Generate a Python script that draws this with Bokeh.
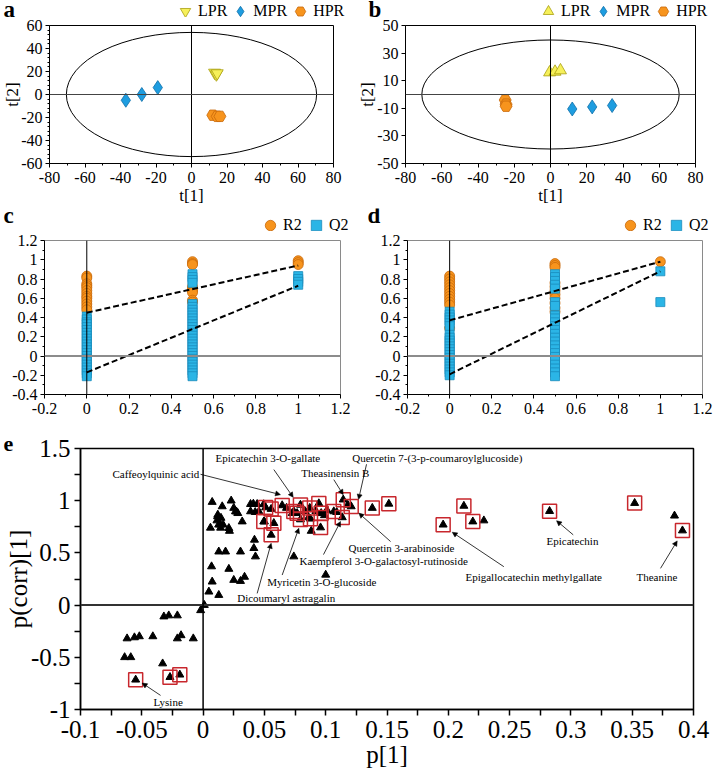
import math
from bokeh.plotting import figure
from bokeh.layouts import column, row
from bokeh.models import (Range1d, FixedTicker, Span, Label, Legend, LegendItem,
                          Arrow, NormalHead, ColumnDataSource)
from bokeh.embed import file_html
from bokeh.resources import INLINE

FONT = "Liberation Serif"
QFONT = "'Liberation Serif'"
ORANGE, ORANGE_EDGE = "#F7941D", "#C8680A"
BLUE, BLUE_EDGE = "#1E9DE0", "#0F6FA8"
CYAN, CYAN_EDGE = "#2BB5E6", "#1A8BBB"
YELLOW, YELLOW_EDGE = "#F6F05A", "#A89E10"
RED = "#C8272D"

# ---------------- panel a (score plot) ----------------
a_lpr_t1 = [13.0, 14.0, 14.5]
a_lpr_t2 = [19.0, 17.5, 18.5]
a_mpr_t1 = [-37.0, -28.0, -19.0]
a_mpr_t2 = [-5.0, 0.0, 6.0]
a_hpr_t1 = [12.0, 14.5, 16.0]
a_hpr_t2 = [-18.0, -19.0, -19.0]
a_ellipse_axes = [70.5, 54.0]
a_x_ticks = [-80, -60, -40, -20, 0, 20, 40, 60, 80]
a_x_labels = ["-80", "-60", "-40", "-20", "0", "20", "40", "60", "80"]
a_x_minor = [-70, -50, -30, -10, 10, 30, 50, 70]
a_y_ticks = [-60, -40, -20, 0, 20, 40, 60]
a_y_labels = ["-60", "-40", "-20", "0", "20", "40", "60"]
a_y_minor = [-56, -52, -48, -44, -36, -32, -28, -24, -16, -12, -8, -4,
             4, 8, 12, 16, 24, 28, 32, 36, 44, 48, 52, 56]

# ---------------- panel b (score plot) ----------------
b_lpr_t1 = [-0.5, 2.5, 5.5]
b_lpr_t2 = [16.0, 16.5, 17.5]
b_mpr_t1 = [12.0, 23.0, 34.0]
b_mpr_t2 = [-10.5, -9.0, -8.0]
b_hpr_t1 = [-25.0, -24.5, -24.5]
b_hpr_t2 = [-4.0, -7.0, -8.5]
b_ellipse_axes = [71.0, 39.5]
b_y_ticks = [-50, -30, -10, 10, 30, 50]
b_y_labels = ["-50", "-30", "-10", "10", "30", "50"]

group_labels = ["LPR", "MPR", "HPR"]
perm_labels = ["R2", "Q2"]

# ---------------- panels c, d (permutation tests) ----------------
c_r2_at0 = [0.83, 0.81, 0.75, 0.73, 0.71, 0.68, 0.65, 0.62, 0.60, 0.57, 0.54, 0.51, 0.48]
c_q2_at0 = [0.41, 0.38, 0.35, 0.33, 0.30, 0.27, 0.24, 0.21, 0.18, 0.15, 0.12, 0.09,
            0.06, 0.03, 0.0, -0.03, -0.06, -0.09, -0.12, -0.15, -0.18, -0.21]
c_r2_at05 = [0.98, 0.96, 0.95, 0.72, 0.70, 0.68, 0.66, 0.58, 0.56]
c_q2_at05 = [0.85, 0.82, 0.79, 0.76, 0.54, 0.51, 0.48, 0.45, 0.42, 0.39, 0.36, 0.33,
             0.30, 0.27, 0.24, 0.21, 0.18, 0.15, 0.12, 0.09, 0.06, 0.03, 0.0, -0.03,
             -0.06, -0.09, -0.12, -0.15, -0.18, -0.21]
c_r2_at1 = [0.99, 0.97, 0.95]
c_q2_at1 = [0.83, 0.80, 0.77, 0.74]
c_r2_line = [0.45, 0.94]
c_q2_line = [-0.17, 0.73]

d_r2_at0 = [0.83, 0.80, 0.77, 0.74, 0.71, 0.68, 0.65, 0.62, 0.59, 0.56, 0.53, 0.29]
d_q2_at0 = [0.46, 0.43, 0.40, 0.37, 0.34, 0.31, 0.22, 0.19, 0.16, 0.13, 0.10, 0.07,
            0.04, 0.01, -0.02, -0.05, -0.08, -0.11, -0.14, -0.17, -0.20]
d_r2_at05 = [0.96, 0.94, 0.92, 0.76, 0.72, 0.68, 0.64, 0.60, 0.55, 0.50, 0.46]
d_q2_at05 = [0.85, 0.82, 0.78, 0.74, 0.70, 0.56, 0.52, 0.42, 0.39, 0.35, 0.31, 0.27,
             0.23, 0.19, 0.15, 0.11, 0.07, 0.03, -0.01, -0.05, -0.09, -0.13, -0.17, -0.21]
d_r2_at1 = [0.98]
d_q2_at1 = [0.88, 0.56]
d_r2_line = [0.37, 0.98]
d_q2_line = [-0.19, 0.88]

perm_x_ticks = [-0.2, 0, 0.2, 0.4, 0.6, 0.8, 1, 1.2]
perm_x_labels = ["-0.2", "0", "0.2", "0.4", "0.6", "0.8", "1", "1.2"]
perm_x_minor = [-0.1, 0.1, 0.3, 0.5, 0.7, 0.9, 1.1]
perm_y_ticks = [-0.4, -0.2, 0, 0.2, 0.4, 0.6, 0.8, 1, 1.2]
perm_y_labels = ["-0.4", "-0.2", "0", "0.2", "0.4", "0.6", "0.8", "1", "1.2"]
perm_y_minor = [-0.3, -0.1, 0.1, 0.3, 0.5, 0.7, 0.9, 1.1]

# ---------------- panel e (S-plot) ----------------
e_p1 = [-0.064, -0.059, -0.062, -0.056, -0.052, -0.041, -0.033, -0.032, -0.028, -0.021,
        -0.021, -0.018, -0.008, -0.002, 0.001,
        0.0074, 0.0156, 0.0229, 0.025, 0.0264, 0.012, 0.0142, 0.021, 0.0319, 0.0387,
        0.0441, 0.0387, 0.0455, 0.0727, 0.0882, 0.074, 0.100, 0.0419, 0.0414, 0.0427,
        0.0128, 0.0183, 0.0305, 0.021, 0.025, 0.0305, 0.0074, 0.0047, 0.0128, 0.0069,
        0.0338, 0.006, 0.0118, 0.0146, 0.0113, 0.0127, 0.0163, 0.0143, 0.0215, 0.0272,
        0.0283, 0.0425, 0.041, 0.0494, 0.050, 0.068, 0.083, 0.092, 0.101, 0.109, 0.118,
        0.086, 0.099, 0.229, 0.3845]
e_pcorr = [-0.50, -0.50, -0.32, -0.31, -0.30, -0.30, -0.56, -0.11, -0.10, -0.10,
           -0.32, -0.29, -0.32, -0.05, 0.00,
           0.987, 0.945, 1.0, 0.93, 0.897, 0.865, 0.77, 0.737, 0.80, 0.967,
           0.967, 0.897, 0.897, 0.88, 0.71, 0.465, 0.29, 0.625, 0.545, 0.465,
           0.512, 0.512, 0.512, 0.346, 0.24, 0.23, 0.224, 0.128, 0.096, 0.37,
           0.27, 0.74, 0.85, 0.835, 0.81, 0.77, 0.77, 0.74, 0.71, 0.895,
           0.88, 0.89, 0.97, 0.965, 0.80, 0.93, 0.90, 0.90, 0.91, 0.89, 0.96,
           0.84, 0.86, 0.81, 0.856]
e_vip_p1 = [0.051, 0.0555, 0.0645, 0.0495, 0.0577, 0.0555, 0.0794, 0.0767, 0.0794, 0.0876,
            0.087, 0.0944, 0.0963, 0.0958, 0.1066, 0.074, 0.1143, 0.1208, 0.1135, 0.138,
            0.1515, 0.2127, 0.1958, 0.220, 0.2826, 0.352, 0.391, -0.055, -0.027, -0.019]
e_vip_pcorr = [0.935, 0.92, 0.955, 0.80, 0.785, 0.673, 0.96, 0.88, 0.82, 0.827,
               0.93, 0.974, 0.88, 0.743, 0.897, 0.897, 1.01, 0.945, 0.84, 0.93,
               0.97, 0.95, 0.77, 0.80, 0.90, 0.977, 0.714, -0.715, -0.69, -0.667]
e_names = ["Epicatechin 3-O-gallate", "Caffeoylquinic acid", "Theasinensin B",
           "Quercetin 7-(3-p-coumaroylglucoside)", "Quercetin 3-arabinoside",
           "Kaempferol 3-O-galactosyl-rutinoside", "Myricetin 3-O-glucoside",
           "Dicoumaryl astragalin", "Epigallocatechin methylgallate", "Epicatechin",
           "Theanine", "Lysine"]
e_name_x = [0.0101, -0.0739, 0.080, 0.1216, 0.1186, 0.0786, 0.0523, 0.0278, 0.214, 0.2801, 0.3535, -0.0405]
e_name_y = [1.407, 1.253, 1.263, 1.41, 0.551, 0.426, 0.224, 0.070, 0.272, 0.618, 0.272, -0.93]
e_arrow_x0 = [0.0577, -0.0021, 0.1066, 0.1333, 0.1529, 0.0982, 0.0645, 0.0441, 0.2453, 0.3019, 0.3731, -0.0347]
e_arrow_y0 = [1.298, 1.253, 1.202, 1.349, 0.609, 0.484, 0.288, 0.112, 0.368, 0.673, 0.352, -0.865]
e_arrow_x1 = [0.0735, 0.0631, 0.1143, 0.1268, 0.127, 0.1121, 0.0781, 0.0555, 0.2032, 0.2883, 0.3867, -0.0497]
e_arrow_y1 = [1.032, 1.058, 1.058, 1.013, 0.881, 0.801, 0.737, 0.592, 0.698, 0.808, 0.615, -0.747]
e_x_ticks = [-0.1, -0.05, 0, 0.05, 0.1, 0.15, 0.2, 0.25, 0.3, 0.35, 0.4]
e_x_labels = ["-0.1", "-0.05", "0", "0.05", "0.1", "0.15", "0.2", "0.25", "0.3", "0.35", "0.4"]
e_x_minor = [-0.075, -0.025, 0.025, 0.075, 0.125, 0.175, 0.225, 0.275, 0.325, 0.375]
e_y_ticks = [-1, -0.5, 0, 0.5, 1, 1.5]
e_y_labels = ["-1", "-0.5", "0", "0.5", "1", "1.5"]
e_y_minor = [-0.75, -0.25, 0.25, 0.75, 1.25]


def no_align(p):
    if "frame_align" in p.properties():
        p.frame_align = False
    return p


def base_fig(w, h, l, r, t, b, xr, yr, title=None):
    kw = dict(title=title) if title else {}
    p = figure(width=w, height=h, x_range=Range1d(*xr), y_range=Range1d(*yr),
               min_border_left=l, min_border_right=r, min_border_top=t, min_border_bottom=b,
               output_backend="svg", toolbar_location=None, **kw)
    p.xgrid.visible = False
    p.ygrid.visible = False
    p.background_fill_color = "white"
    p.border_fill_color = "white"
    return no_align(p)


def style_axis(ax, ticks, labels, minor, size, tick_out=4, minor_out=2, standoff=3, lw=1):
    ax.ticker = FixedTicker(ticks=ticks, minor_ticks=minor)
    ax.major_label_overrides = {t: s for t, s in zip(ticks, labels)}
    ax.major_label_text_font = QFONT
    ax.major_label_text_font_size = size
    ax.major_label_text_color = "black"
    ax.major_tick_in = 0
    ax.major_tick_out = tick_out
    ax.minor_tick_in = 0
    ax.minor_tick_out = minor_out
    ax.major_label_standoff = standoff
    ax.axis_line_color = "black"
    ax.axis_line_width = lw
    ax.major_tick_line_color = "black"
    ax.minor_tick_line_color = "black"
    ax.major_tick_line_width = lw
    ax.minor_tick_line_width = lw


def axis_title(ax, text, size, standoff):
    ax.axis_label = text
    ax.axis_label_text_font = FONT
    ax.axis_label_text_font_size = size
    ax.axis_label_text_font_style = "normal"
    ax.axis_label_text_color = "black"
    ax.axis_label_standoff = standoff


def header(w, h, letter, letter_x, letter_y, labels, styles, leg_x, leg_y):
    """Strip above a panel: panel letter and the legend of the panel."""
    p = figure(width=w, height=h, x_range=Range1d(0, w), y_range=Range1d(0, h),
               x_axis_type=None, y_axis_type=None, min_border=0,
               min_border_left=0, min_border_right=0, min_border_top=0, min_border_bottom=0,
               output_backend="svg", toolbar_location=None)
    no_align(p)
    p.outline_line_color = None
    p.background_fill_color = "white"
    p.border_fill_color = "white"
    items = []
    for lab, (mk, fc, lc) in zip(labels, styles):
        # legend proxy glyph, placed outside the visible strip
        r = p.scatter(x=[-50], y=[-50], marker=mk, size=10, fill_color=fc,
                      line_color=lc, line_width=0.8)
        items.append(LegendItem(label=lab, renderers=[r]))
    p.add_layout(Legend(items=items, location=(leg_x, leg_y), orientation="horizontal",
                        glyph_width=26, glyph_height=26, label_standoff=-3,
                        spacing=0, padding=0, margin=0, border_line_color=None,
                        background_fill_alpha=0, label_text_font=QFONT,
                        label_text_font_size="16px", label_height=20,
                        label_text_baseline="middle", label_text_color="black"))
    p.add_layout(Label(x=letter_x, y=letter_y, x_units="screen", y_units="screen",
                       text=letter, text_font=FONT, text_font_size="23px",
                       text_font_style="bold", text_align="left",
                       text_baseline="alphabetic", text_color="black"))
    return p


# ---------- score panels ----------
def score_panel(w, l, r, lpr, mpr, hpr, ell, yr, yt, yl, ymn, lpr_marker, hpr_marker,
                ylab_standoff):
    p = base_fig(w, 191, l, r, 8, 45, (-80, 80), yr)
    p.outline_line_color = "black"
    p.outline_line_width = 1
    style_axis(p.xaxis[0], a_x_ticks, a_x_labels, a_x_minor, "16px", standoff=4)
    style_axis(p.yaxis[0], yt, yl, ymn, "16px")
    axis_title(p.xaxis[0], "t[1]", "17px", 0)
    axis_title(p.yaxis[0], "t[2]", "17px", ylab_standoff)
    p.add_layout(Span(location=0, dimension="height", line_color="black", line_width=1))
    p.add_layout(Span(location=0, dimension="width", line_color="#444444", line_width=1.2))
    p.ellipse(x=[0], y=[0], width=[2 * ell[0]], height=[2 * ell[1]],
              fill_color=None, line_color="black", line_width=1)
    p.scatter(lpr[0], lpr[1], marker=lpr_marker, size=12,
              fill_color=YELLOW, line_color=YELLOW_EDGE, line_width=0.8)
    p.scatter(mpr[0], mpr[1], marker="diamond", size=14,
              fill_color=BLUE, line_color=BLUE_EDGE, line_width=0.8)
    p.scatter(hpr[0], hpr[1], marker=hpr_marker, size=12,
              fill_color=ORANGE, line_color=ORANGE_EDGE, line_width=0.8)
    return p


pa = score_panel(355, 44, 22, (a_lpr_t1, a_lpr_t2), (a_mpr_t1, a_mpr_t2),
                 (a_hpr_t1, a_hpr_t2), a_ellipse_axes, (-60, 60),
                 a_y_ticks, a_y_labels, a_y_minor, "inverted_triangle", "hex", -4)
pb = score_panel(358, 50, 18, (b_lpr_t1, b_lpr_t2), (b_mpr_t1, b_mpr_t2),
                 (b_hpr_t1, b_hpr_t2), b_ellipse_axes, (-50, 50),
                 b_y_ticks, b_y_labels, [], "triangle", "hex", -3)
ha = header(355, 17, "a", 3, 8.5, group_labels,
            [("inverted_triangle", YELLOW, YELLOW_EDGE), ("diamond", BLUE, BLUE_EDGE),
             ("hex", ORANGE, ORANGE_EDGE)], 172, -7)
hb = header(358, 17, "b", 13, 8.5, group_labels,
            [("triangle", YELLOW, YELLOW_EDGE), ("diamond", BLUE, BLUE_EDGE),
             ("hex", ORANGE, ORANGE_EDGE)], 180, -7)


# ---------- permutation panels ----------
def perm_panel(w, l, r, r2_sets, q2_sets, r2_line, q2_line):
    p = base_fig(w, 192, l, r, 9, 29, (-0.2, 1.2), (-0.4, 1.2))
    p.outline_line_color = "#8a8a8a"
    p.outline_line_width = 1
    style_axis(p.xaxis[0], perm_x_ticks, perm_x_labels, perm_x_minor, "16px", standoff=4)
    style_axis(p.yaxis[0], perm_y_ticks, perm_y_labels, perm_y_minor, "16px")
    p.add_layout(Span(location=0, dimension="width", line_color="#8c8c8c", line_width=2))
    p.add_layout(Span(location=0, dimension="height", line_color="black", line_width=1))
    xs = [0, 0.5, 1]
    for xv, vals in zip(xs, r2_sets):
        p.scatter([xv] * len(vals), vals, marker="circle", size=10,
                  fill_color=ORANGE, line_color=ORANGE_EDGE, line_width=0.8)
    for xv, vals in zip(xs, q2_sets):
        p.scatter([xv] * len(vals), vals, marker="square", size=9,
                  fill_color=CYAN, line_color=CYAN_EDGE, line_width=0.8)
    p.line([0, 1], r2_line, line_color="black", line_width=2, line_dash="6 3")
    p.line([0, 1], q2_line, line_color="black", line_width=2, line_dash="6 3")
    return p


pc = perm_panel(355, 44, 15, (c_r2_at0, c_r2_at05, c_r2_at1),
                (c_q2_at0, c_q2_at05, c_q2_at1), c_r2_line, c_q2_line)
pd = perm_panel(358, 52, 11, (d_r2_at0, d_r2_at05, d_r2_at1),
                (d_q2_at0, d_q2_at05, d_q2_at1), d_r2_line, d_q2_line)
perm_styles = [("circle", ORANGE, ORANGE_EDGE), ("square", CYAN, CYAN_EDGE)]
hc = header(355, 23, "c", 3, 16, perm_labels, perm_styles, 257, -7)
hd = header(358, 23, "d", 12, 16, perm_labels, perm_styles, 262, -7)

# ---------- S-plot ----------
pe = base_fig(713, 356, 80, 20, 25, 70, (-0.1, 0.4), (-1, 1.5), title="e")
pe.title.text_font = FONT
pe.title.text_font_size = "22px"
pe.title.text_font_style = "bold"
pe.title.text_color = "black"
pe.title.align = "left"
pe.title.offset = -77
pe.title.standoff = -4
pe.outline_line_color = "black"
pe.outline_line_width = 1.5
style_axis(pe.xaxis[0], e_x_ticks, e_x_labels, e_x_minor, "25px",
           tick_out=6, minor_out=6, standoff=5, lw=1.5)
style_axis(pe.yaxis[0], e_y_ticks, e_y_labels, e_y_minor, "25px",
           tick_out=6, minor_out=6, standoff=4, lw=1.5)
axis_title(pe.xaxis[0], "p[1]", "25px", 0)
axis_title(pe.yaxis[0], "p(corr)[1]", "25px", -4)
pe.add_layout(Span(location=0, dimension="width", line_color="#333333", line_width=2))
pe.add_layout(Span(location=0, dimension="height", line_color="black", line_width=1.5))
pe.scatter(e_p1, e_pcorr, marker="triangle", size=8, fill_color="black", line_color="black")
pe.scatter(e_vip_p1, e_vip_pcorr, marker="triangle", size=8, fill_color="black", line_color="black")
pe.scatter(e_vip_p1, e_vip_pcorr, marker="square", size=14, fill_color=None,
           line_color=RED, line_width=1.5)
arrow_src = ColumnDataSource(dict(xs=e_arrow_x0, ys=e_arrow_y0, xe=e_arrow_x1, ye=e_arrow_y1))
pe.add_layout(Arrow(end=NormalHead(size=5, fill_color="black", line_color="black", line_width=0.5),
                    x_start="xs", y_start="ys", x_end="xe", y_end="ye", source=arrow_src,
                    line_color="black", line_width=0.8))
for name, nx, ny in zip(e_names, e_name_x, e_name_y):
    pe.add_layout(Label(x=nx, y=ny, text=name, text_font=FONT, text_font_size="11px",
                        text_align="left", text_baseline="middle", text_color="black"))

layout = column(row(column(ha, pa), column(hb, pb)),
                row(column(hc, pc), column(hd, pd)),
                pe)
open("out.html", "w").write(file_html(layout, INLINE))
